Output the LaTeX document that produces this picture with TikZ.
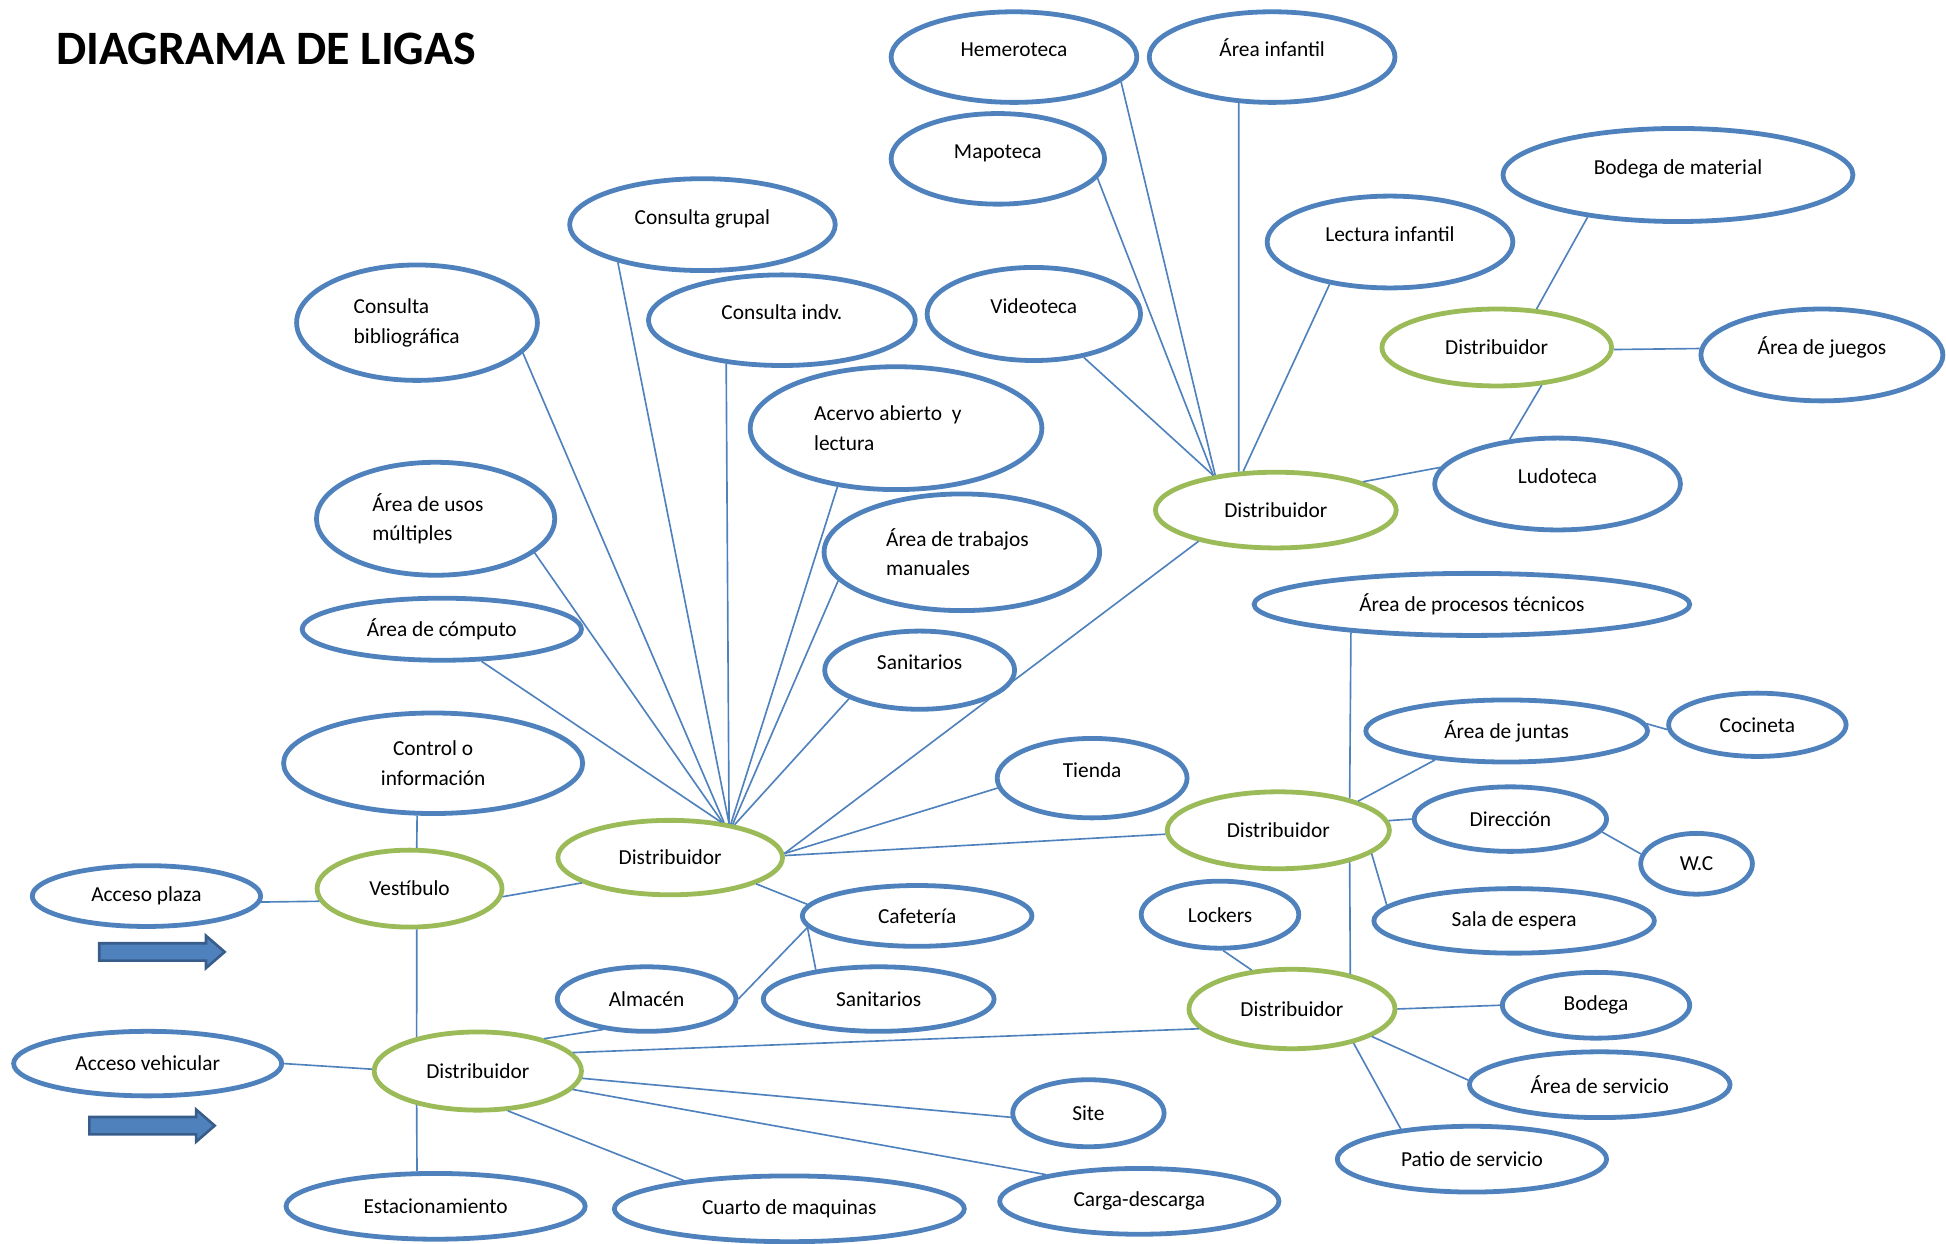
\documentclass[tikz,border=0pt]{standalone}
\usepackage{fontspec}
\setmainfont{Carlito}
\usetikzlibrary{shapes.geometric}
\definecolor{azul}{RGB}{79,129,189}
\definecolor{azulosc}{RGB}{56,93,138}
\definecolor{verde}{RGB}{155,187,89}
\tikzset{
  room/.style={ellipse, draw=azul, line width=2.2pt, inner sep=0pt, align=center,
    font=\fontsize{9.8}{13.6}\selectfont},
  hub/.style={room, draw=verde},
  arriba/.style={text height=0.25cm, text depth=0.26cm},
  liga/.style={azul, line width=0.75pt},
  entrada/.style={fill=azul, draw=azulosc, line width=1.2pt}
}
\begin{document}
\begin{tikzpicture}[scale=0.2]
\useasboundingbox (0,0) rectangle (156.8,-100.2);
\node [anchor=base west, inner sep=0pt, font=\bfseries\fontsize{22}{26}\selectfont] (titulo) at (4.5,-5.2) {DIAGRAMA DE LIGAS};
\node [room, arriba, minimum width=3.96cm, minimum height=1.46cm] (hem) at (81.7,-4.6) {Hemeroteca};
\node [room, arriba, minimum width=3.96cm, minimum height=1.46cm] (ainf) at (102.5,-4.6) {Área infantil};
\node [room, arriba, minimum width=3.44cm, minimum height=1.46cm] (mapo) at (80.4,-12.8) {Mapoteca};
\node [room, arriba, minimum width=5.64cm, minimum height=1.50cm] (bmat) at (135.2,-14.1) {Bodega de material};
\node [room, arriba, minimum width=4.28cm, minimum height=1.48cm] (cgru) at (56.6,-18.1) {Consulta grupal};
\node [room, arriba, minimum width=3.96cm, minimum height=1.48cm] (linf) at (112.0,-19.5) {Lectura infantil};
\node [room, minimum width=3.88cm, minimum height=1.86cm, align=flush left, text width=2.04cm] (cbib) at (33.6,-26.0) {Consulta\\bibliográfica};
\node [room, arriba, minimum width=4.30cm, minimum height=1.46cm] (cind) at (63.0,-25.8) {Consulta indv.};
\node [room, arriba, minimum width=3.44cm, minimum height=1.50cm] (vid) at (83.3,-25.3) {Videoteca};
\node [hub, minimum width=3.70cm, minimum height=1.24cm] (dlud) at (120.6,-28.0) {Distribuidor};
\node [room, arriba, minimum width=3.90cm, minimum height=1.48cm] (ajue) at (146.8,-28.6) {Área de juegos};
\node [room, minimum width=4.70cm, minimum height=1.98cm, align=flush left, text width=2.64cm] (acer) at (72.2,-34.5) {Acervo abierto~ y\\lectura};
\node [room, arriba, minimum width=3.96cm, minimum height=1.48cm] (ludo) at (125.5,-39.0) {Ludoteca};
\node [room, minimum width=3.84cm, minimum height=1.82cm, align=flush left, text width=2.04cm] (ausos) at (35.1,-41.8) {Área de usos\\múltiples};
\node [hub, minimum width=3.88cm, minimum height=1.22cm] (dsup) at (102.8,-41.1) {Distribuidor};
\node [room, minimum width=4.44cm, minimum height=1.88cm, align=flush left, text width=2.44cm] (atrab) at (77.5,-44.5) {Área de trabajos\\manuales};
\node [room, minimum width=4.50cm, minimum height=1.00cm] (acomp) at (35.6,-50.7) {Área de cómputo};
\node [room, minimum width=7.02cm, minimum height=1.00cm] (aproc) at (118.6,-48.7) {Área de procesos técnicos};
\node [room, arriba, minimum width=3.06cm, minimum height=1.26cm] (san1) at (74.1,-54.0) {Sanitarios};
\node [room, minimum width=4.54cm, minimum height=1.00cm] (ajun) at (121.4,-58.9) {Área de juntas};
\node [room, minimum width=2.86cm, minimum height=1.02cm] (coci) at (141.6,-58.4) {Cocineta};
\node [room, minimum width=4.82cm, minimum height=1.62cm] (ctrl) at (34.9,-61.5) {Control o\\información};
\node [room, arriba, minimum width=3.06cm, minimum height=1.28cm] (tien) at (88.0,-62.7) {Tienda};
\node [hub, minimum width=3.58cm, minimum height=1.24cm] (dadm) at (103.0,-66.9) {Distribuidor};
\node [room, minimum width=3.10cm, minimum height=1.04cm] (dir) at (121.7,-66.0) {Dirección};
\node [hub, minimum width=3.62cm, minimum height=1.20cm] (dcen) at (54.0,-69.1) {Distribuidor};
\node [room, minimum width=1.80cm, minimum height=0.98cm] (wc) at (136.7,-69.6) {W.C};
\node [room, minimum width=3.68cm, minimum height=0.98cm] (aplz) at (11.8,-72.2) {Acceso plaza};
\node [hub, minimum width=2.98cm, minimum height=1.24cm] (vest) at (33.0,-71.6) {Vestíbulo};
\node [room, minimum width=3.70cm, minimum height=0.98cm] (caf) at (73.9,-73.8) {Cafetería};
\node [room, minimum width=2.54cm, minimum height=1.08cm] (lock) at (98.3,-73.7) {Lockers};
\node [room, minimum width=4.52cm, minimum height=1.04cm] (sesp) at (122.0,-74.2) {Sala de espera};
\node [room, minimum width=2.88cm, minimum height=1.04cm] (alm) at (52.1,-80.5) {Almacén};
\node [room, minimum width=3.72cm, minimum height=1.04cm] (san2) at (70.8,-80.5) {Sanitarios};
\node [hub, minimum width=3.32cm, minimum height=1.28cm] (dserv) at (104.1,-81.3) {Distribuidor};
\node [room, minimum width=3.02cm, minimum height=1.06cm] (bod) at (128.6,-81.0) {Bodega};
\node [room, minimum width=4.32cm, minimum height=1.04cm] (aveh) at (11.9,-85.7) {Acceso vehicular};
\node [hub, minimum width=3.34cm, minimum height=1.26cm] (dveh) at (38.5,-86.3) {Distribuidor};
\node [room, minimum width=4.20cm, minimum height=1.06cm] (aserv) at (128.9,-87.4) {Área de servicio};
\node [room, minimum width=2.44cm, minimum height=1.08cm] (site) at (87.7,-89.7) {Site};
\node [room, minimum width=4.34cm, minimum height=1.06cm] (patio) at (118.6,-93.4) {Patio de servicio};
\node [room, minimum width=4.82cm, minimum height=1.06cm] (estac) at (35.1,-97.2) {Estacionamiento};
\node [room, minimum width=5.64cm, minimum height=1.06cm] (cmaq) at (63.6,-97.4) {Cuarto de maquinas};
\node [room, minimum width=4.50cm, minimum height=1.06cm] (carga) at (91.8,-96.8) {Carga-descarga};
\draw [liga] (cbib.-16) -- (dcen.33);
\draw [liga] (cgru.-156) -- (dcen.30);
\draw [liga] (cind.-142) -- (dcen.30);
\draw [liga] (acer.-135) -- (dcen.29);
\draw [liga] (ausos.-19) -- (dcen.34);
\draw [liga] (acomp.-39) -- (dcen.35);
\draw [liga] (atrab.-167) -- (dcen.28);
\draw [liga] (san1.-158) -- (dcen.27);
\draw [liga] (dsup.-158) -- (dcen.2);
\draw [liga] (tien.-174) -- (dcen.2);
\draw [liga] (dadm.182) -- (dcen.1);
\draw [liga] (dcen.-17) -- (caf.174);
\draw [liga] (alm.0) -- (caf.-174);
\draw [liga] (san2.155) -- (caf.-174);
\draw [liga] (ctrl.-107) -- (vest.80);
\draw [liga] (aplz.-3) -- (vest.-172);
\draw [liga] (vest.-5) -- (dcen.-164);
\draw [liga] (vest.-80) -- (dveh.151);
\draw [liga] (aveh.0) -- (dveh.179);
\draw [liga] (dveh.-151) -- (estac.118);
\draw [liga] (dveh.26) -- (alm.-145);
\draw [liga] (dveh.11) -- (dserv.-168);
\draw [liga] (dveh.-4) -- (site.-177);
\draw [liga] (dveh.-11) -- (carga.164);
\draw [liga] (dveh.-53) -- (cmaq.165);
\draw [liga] (hem.-13) -- (dsup.150);
\draw [liga] (ainf.-126) -- (dsup.134);
\draw [liga] (mapo.-11) -- (dsup.151);
\draw [liga] (vid.-41) -- (dsup.151);
\draw [liga] (linf.-145) -- (dsup.130);
\draw [liga] (dsup.18) -- (ludo.172);
\draw [liga] (bmat.-155) -- (dlud.44);
\draw [liga] (dlud.-1) -- (ajue.177);
\draw [liga] (dlud.-40) -- (ludo.137);
\draw [liga] (aproc.-167) -- (dadm.24);
\draw [liga] (dadm.20) -- (ajun.-158);
\draw [liga] (ajun.3) -- (coci.-177);
\draw [liga] (dadm.5) -- (dir.180);
\draw [liga] (dir.-8) -- (wc.170);
\draw [liga] (dadm.-14) -- (sesp.173);
\draw [liga] (dadm.-24) -- (dserv.31);
\draw [liga] (lock.-85) -- (dserv.136);
\draw [liga] (dserv.0) -- (bod.180);
\draw [liga] (dserv.-19) -- (aserv.178);
\draw [liga] (dserv.-29) -- (patio.157);
\filldraw [entrada] (8.0,-76.0) -- (16.6,-76.0) -- (16.6,-75.4) -- (18.1,-76.7) -- (16.6,-78.0) -- (16.6,-77.4) -- (8.0,-77.4) -- cycle;
\filldraw [entrada] (7.2,-90.0) -- (15.8,-90.0) -- (15.8,-89.4) -- (17.3,-90.7) -- (15.8,-92.0) -- (15.8,-91.4) -- (7.2,-91.4) -- cycle;
\end{tikzpicture}
\end{document}
